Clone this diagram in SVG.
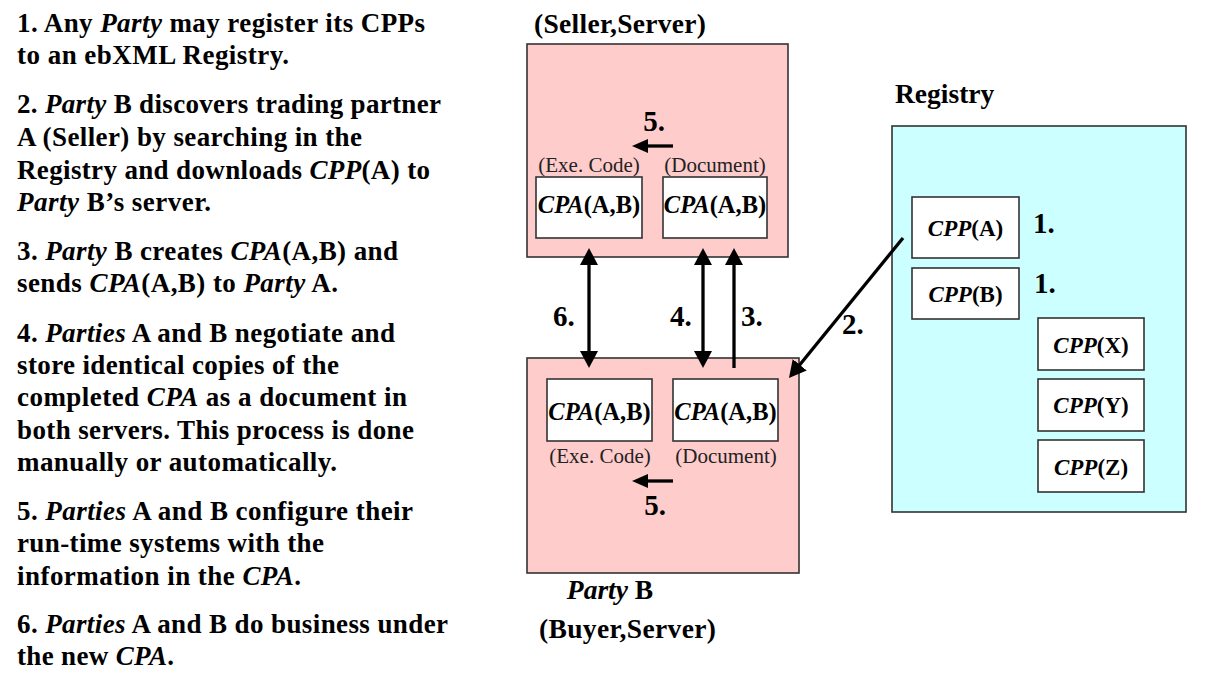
<svg xmlns="http://www.w3.org/2000/svg" width="1211" height="681" viewBox="0 0 1211 681">
<style>
  text { font-family: "Liberation Serif", "Times New Roman", serif; fill: #000; }
  .desc { font-size: 27px; font-weight: bold; }
  .i { font-style: italic; }
  .title { font-size: 27.5px; font-weight: bold; }
  .num { font-size: 29px; font-weight: bold; }
  .cpa { font-size: 24.5px; font-weight: bold; text-anchor: middle; }
  .cpp { font-size: 23px; font-weight: bold; text-anchor: middle; }
  .small { font-size: 21px; text-anchor: middle; fill: #222; }
  .party { fill: #FFCCCC; stroke: #333; stroke-width: 1.6; }
  .reg { fill: #CCFFFF; stroke: #333; stroke-width: 1.6; }
  .box { fill: #FFFFFF; stroke: #333; stroke-width: 1.6; }
  .conn { stroke: #000; stroke-width: 3.3; fill: none; }
</style>
<defs>
  <marker id="ah" markerUnits="userSpaceOnUse" markerWidth="18" markerHeight="18" refX="7" refY="9" orient="auto-start-reverse">
    <path d="M0,0 L17,9 L0,18 z" fill="#000"/>
  </marker>
  <marker id="ahs" markerUnits="userSpaceOnUse" markerWidth="17" markerHeight="14" refX="6" refY="7" orient="auto-start-reverse">
    <path d="M0,0 L16,7 L0,14 z" fill="#000"/>
  </marker>
</defs>

<g id="description">
  <text class="desc" x="17" y="32" textLength="408" lengthAdjust="spacing">1. Any <tspan class="i">Party</tspan> may register its CPPs</text>
  <text class="desc" x="17" y="64" textLength="272" lengthAdjust="spacing">to an ebXML Registry.</text>
  <text class="desc" x="17" y="113" textLength="424" lengthAdjust="spacing">2. <tspan class="i">Party</tspan> B discovers trading partner</text>
  <text class="desc" x="17" y="146" textLength="345" lengthAdjust="spacing">A (Seller) by searching in the</text>
  <text class="desc" x="17" y="179" textLength="413" lengthAdjust="spacing">Registry and downloads <tspan class="i">CPP</tspan>(A) to</text>
  <text class="desc" x="17" y="211" textLength="194" lengthAdjust="spacing"><tspan class="i">Party</tspan> B’s server.</text>
  <text class="desc" x="17" y="260" textLength="381" lengthAdjust="spacing">3. <tspan class="i">Party</tspan> B creates <tspan class="i">CPA</tspan>(A,B) and</text>
  <text class="desc" x="17" y="292" textLength="321" lengthAdjust="spacing">sends <tspan class="i">CPA</tspan>(A,B) to <tspan class="i">Party</tspan> A.</text>
  <text class="desc" x="17" y="342" textLength="378" lengthAdjust="spacing">4. <tspan class="i">Parties</tspan> A and B negotiate and</text>
  <text class="desc" x="17" y="374" textLength="322" lengthAdjust="spacing">store identical copies of the</text>
  <text class="desc" x="17" y="406" textLength="390" lengthAdjust="spacing">completed <tspan class="i">CPA</tspan> as a document in</text>
  <text class="desc" x="17" y="439" textLength="397" lengthAdjust="spacing">both servers. This process is done</text>
  <text class="desc" x="17" y="471" textLength="320" lengthAdjust="spacing">manually or automatically.</text>
  <text class="desc" x="17" y="520" textLength="396" lengthAdjust="spacing">5. <tspan class="i">Parties</tspan> A and B configure their</text>
  <text class="desc" x="17" y="552" textLength="307" lengthAdjust="spacing">run-time systems with the</text>
  <text class="desc" x="17" y="585" textLength="284" lengthAdjust="spacing">information in the <tspan class="i">CPA</tspan>.</text>
  <text class="desc" x="17" y="633" textLength="431" lengthAdjust="spacing">6. <tspan class="i">Parties</tspan> A and B do business under</text>
  <text class="desc" x="17" y="665" textLength="157" lengthAdjust="spacing">the new <tspan class="i">CPA</tspan>.</text>
</g>

<g id="partyA">
  <text class="title" x="534" y="33" textLength="172" lengthAdjust="spacing">(Seller,Server)</text>
  <rect class="party" x="527" y="44" width="261" height="213"/>
  <text class="num" x="654" y="131" text-anchor="middle">5.</text>
  <text class="small" x="589" y="172">(Exe. Code)</text>
  <text class="small" x="715" y="172">(Document)</text>
</g>
<g id="partyA-cpa-exe">
  <rect class="box" x="536" y="177" width="106" height="61"/>
  <text class="cpa" x="589" y="213"><tspan class="i">CPA</tspan>(A,B)</text>
</g>
<g id="partyA-cpa-doc">
  <rect class="box" x="663" y="177" width="104" height="61"/>
  <text class="cpa" x="715" y="213"><tspan class="i">CPA</tspan>(A,B)</text>
</g>

<g id="partyB">
  <rect class="party" x="527" y="358" width="272" height="215"/>
  <text class="small" x="600" y="463">(Exe. Code)</text>
  <text class="small" x="726" y="463">(Document)</text>
  <text class="num" x="655" y="515" text-anchor="middle">5.</text>
  <text class="title" x="610" y="599" text-anchor="middle"><tspan class="i">Party</tspan> B</text>
  <text class="title" x="539" y="638" textLength="177" lengthAdjust="spacing">(Buyer,Server)</text>
</g>
<g id="partyB-cpa-exe">
  <rect class="box" x="547" y="379" width="105" height="62"/>
  <text class="cpa" x="599.5" y="420"><tspan class="i">CPA</tspan>(A,B)</text>
</g>
<g id="partyB-cpa-doc">
  <rect class="box" x="673" y="379" width="105" height="62"/>
  <text class="cpa" x="725.5" y="420"><tspan class="i">CPA</tspan>(A,B)</text>
</g>

<g id="registry">
  <text class="title" x="895" y="103">Registry</text>
  <rect class="reg" x="892" y="126" width="294" height="386"/>
  <text class="num" x="1033" y="233">1.</text>
  <text class="num" x="1034" y="293">1.</text>
</g>
<g id="cpp-a">
  <rect class="box" x="912" y="197" width="107" height="61"/>
  <text class="cpp" x="965.5" y="236"><tspan class="i">CPP</tspan>(A)</text>
</g>
<g id="cpp-b">
  <rect class="box" x="912" y="268" width="107" height="51"/>
  <text class="cpp" x="965.5" y="302"><tspan class="i">CPP</tspan>(B)</text>
</g>
<g id="cpp-x">
  <rect class="box" x="1038" y="318" width="106" height="52"/>
  <text class="cpp" x="1091" y="353"><tspan class="i">CPP</tspan>(X)</text>
</g>
<g id="cpp-y">
  <rect class="box" x="1038" y="379" width="106" height="52"/>
  <text class="cpp" x="1091" y="413"><tspan class="i">CPP</tspan>(Y)</text>
</g>
<g id="cpp-z">
  <rect class="box" x="1038" y="440" width="106" height="52"/>
  <text class="cpp" x="1091" y="475"><tspan class="i">CPP</tspan>(Z)</text>
</g>

<g id="connectors">
  <line class="conn" x1="673" y1="146" x2="642" y2="146" marker-end="url(#ahs)"/>
  <line class="conn" x1="673" y1="481" x2="642" y2="481" marker-end="url(#ahs)"/>
  <line class="conn" x1="589" y1="258" x2="589" y2="358" marker-start="url(#ah)" marker-end="url(#ah)"/>
  <line class="conn" x1="703" y1="258" x2="703" y2="358" marker-start="url(#ah)" marker-end="url(#ah)"/>
  <line class="conn" x1="734" y1="368" x2="734" y2="258" marker-end="url(#ah)"/>
  <line class="conn" x1="903" y1="238" x2="795.3" y2="370.2" marker-end="url(#ah)"/>
  <text class="num" x="553" y="326">6.</text>
  <text class="num" x="670" y="326">4.</text>
  <text class="num" x="741" y="326">3.</text>
  <text class="num" x="842" y="334">2.</text>
</g>
</svg>
